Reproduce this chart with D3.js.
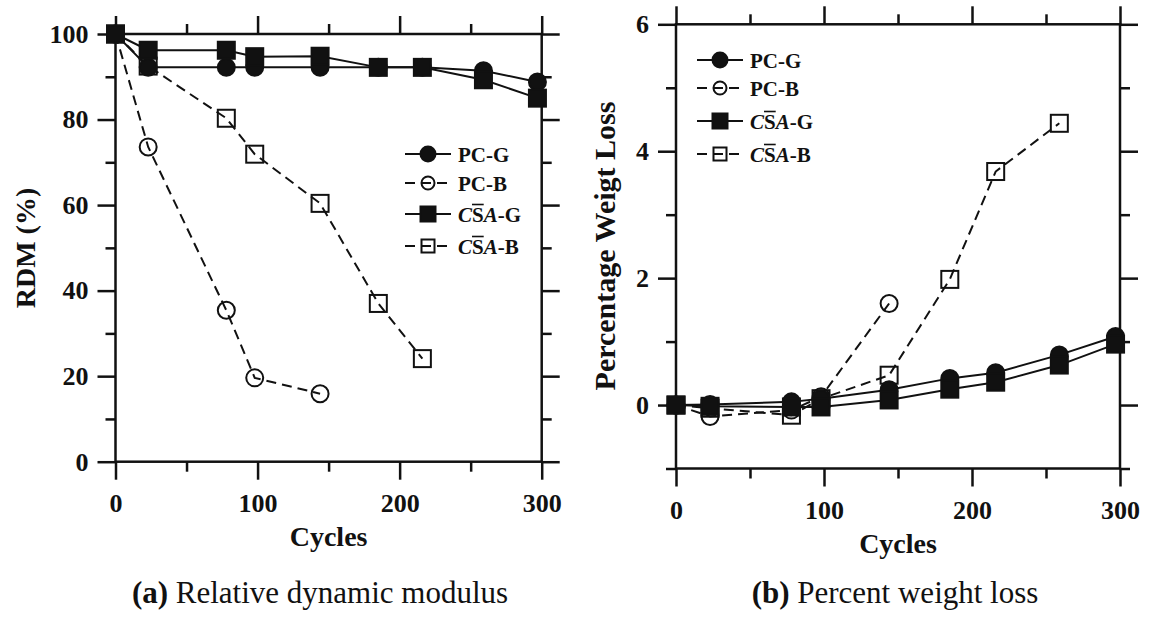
<!DOCTYPE html>
<html>
<head>
<meta charset="utf-8">
<script src="https://cdn.jsdelivr.net/npm/d3@7"></script>
<style>
  body { margin: 0; background: #fff; }
  svg { display: block; font-family: "Liberation Serif", "Times New Roman", Times, serif; }
  .axis text { font-size: 26px; font-weight: bold; fill: #111; font-family: "Liberation Serif", "Times New Roman", Times, serif; }
  .axis line { stroke: #111; stroke-width: 2.5; }
</style>
</head>
<body>
<svg id="chart" width="1150" height="618"></svg>
<script>
// cycles at which the specimens were measured
const cycles = [0, 23, 78, 98, 144, 185, 216, 259, 297];
const seriesNames = ["PC-G", "PC-B", "CSA-G", "CSA-B"];

// (a) relative dynamic modulus, %
const rdmPCG = [100, 92.2, 92.2, 92.2, 92.2, 92.2, 92.2, 91.4, 88.8];
const rdmPCB = [100, 73.6, 35.4, 19.6, 15.9];
const rdmCSAG = [100, 96.2, 96.2, 94.7, 94.8, 92.2, 92.2, 89.3, 85.0];
const rdmCSAB = [100, 92.5, 80.3, 71.9, 60.4, 37.0, 24.1];

// (b) percentage weight loss
const wlPCG = [0, 0.01, 0.05, 0.1, 0.24, 0.42, 0.51, 0.79, 1.08];
const wlPCB = [0, -0.18, -0.08, 0.13, 1.6];
const wlCSAG = [0, -0.02, -0.03, -0.03, 0.08, 0.25, 0.36, 0.63, 0.96];
const wlCSAB = [0, -0.05, -0.16, 0.1, 0.47, 1.98, 3.68, 4.44];

const xMajor = [0, 100, 200, 300];
const xMinor = [50, 150, 250];
const rdmMajor = [0, 20, 40, 60, 80, 100];
const rdmMinor = [10, 30, 50, 70, 90];
const wlMajor = [0, 2, 4, 6];
const wlMinor = [-1, 1, 3, 5];

const ink = "#111";
const serif = "Liberation Serif";

// drawing style per series (order = draw order)
const styles = {
  "PC-B": { shape: "circle", filled: false, dashed: true },
  "CSA-B": { shape: "square", filled: false, dashed: true },
  "PC-G": { shape: "circle", filled: true, dashed: false },
  "CSA-G": { shape: "square", filled: true, dashed: false },
};

let svg = d3.select("#chart");

function marker(g, shape, filled, cx, cy, size) {
  if (shape === "circle") {
    g.append("circle")
      .attr("cx", cx).attr("cy", cy).attr("r", size / 2)
      .attr("fill", filled ? ink : "none")
      .attr("stroke", ink).attr("stroke-width", 2);
  } else {
    g.append("rect")
      .attr("x", cx - size / 2).attr("y", cy - size / 2)
      .attr("width", size).attr("height", size)
      .attr("fill", filled ? ink : "none")
      .attr("stroke", ink).attr("stroke-width", 2);
  }
}

function legendLabel(g, name, x, y) {
  let t = g.append("text")
    .attr("x", x).attr("y", y)
    .style("font-family", serif)
    .attr("font-weight", "bold")
    .attr("font-size", 21)
    .attr("fill", ink);
  if (name.startsWith("CSA")) {
    t.append("tspan").attr("font-style", "italic").text("C");
    t.append("tspan").text("S");
    t.append("tspan").attr("font-style", "italic").text("A");
    t.append("tspan").text(name.slice(3));
    // overline on the S
    let node = t.node();
    let s0 = node.getStartPositionOfChar(1).x;
    let s1 = node.getEndPositionOfChar(1).x;
    g.append("line")
      .attr("x1", s0).attr("x2", s1)
      .attr("y1", y - 17).attr("y2", y - 17)
      .attr("stroke", ink).attr("stroke-width", 1.6);
  } else {
    t.text(name);
  }
}

function drawPanel(opts) {
  const { left, top, w, h, yDomain, series, yMajor, yMinor, legendX, legendY, legendRows } = opts;
  let g = svg.append("g").attr("transform", "translate(" + left + "," + top + ")");

  let x = d3.scaleLinear().domain([0, 300]).range([0, w]);
  let y = d3.scaleLinear().domain(yDomain).range([h, 0]);

  // ticks on all four sides, pointing outwards
  g.append("g").attr("class", "axis").attr("transform", "translate(0," + h + ")")
    .call(d3.axisBottom(x).tickValues(xMajor).tickSize(18).tickPadding(14).tickFormat(d3.format("d")));
  g.append("g").attr("class", "axis").attr("transform", "translate(0," + h + ")")
    .call(d3.axisBottom(x).tickValues(xMinor).tickSize(10).tickFormat(""));
  g.append("g").attr("class", "axis")
    .call(d3.axisTop(x).tickValues(xMajor).tickSize(18).tickFormat(""));
  g.append("g").attr("class", "axis")
    .call(d3.axisTop(x).tickValues(xMinor).tickSize(10).tickFormat(""));
  g.append("g").attr("class", "axis")
    .call(d3.axisLeft(y).tickValues(yMajor).tickSize(18).tickPadding(9).tickFormat(d3.format("d")));
  g.append("g").attr("class", "axis")
    .call(d3.axisLeft(y).tickValues(yMinor).tickSize(10).tickFormat(""));
  g.append("g").attr("class", "axis").attr("transform", "translate(" + w + ",0)")
    .call(d3.axisRight(y).tickValues(yMajor).tickSize(18).tickFormat(""));
  g.append("g").attr("class", "axis").attr("transform", "translate(" + w + ",0)")
    .call(d3.axisRight(y).tickValues(yMinor).tickSize(10).tickFormat(""));
  g.selectAll(".axis .domain").remove();
  // d3 axes set font-family="sans-serif" on the group; override it
  g.selectAll(".axis").attr("font-family", null).attr("font-size", null);

  g.append("rect")
    .attr("x", 0).attr("y", 0).attr("width", w).attr("height", h)
    .attr("fill", "none").attr("stroke", ink).attr("stroke-width", 2.5);

  let line = d3.line()
    .x(function (d, i) { return x(cycles[i]); })
    .y(function (d) { return y(d); });

  Object.keys(styles).forEach(function (name) {
    let st = styles[name];
    let vals = series[name];
    g.append("path")
      .datum(vals)
      .attr("d", line)
      .attr("fill", "none")
      .attr("stroke", ink)
      .attr("stroke-width", 2)
      .attr("stroke-dasharray", st.dashed ? "10,6" : null);
    let mg = g.append("g");
    vals.forEach(function (v, i) {
      marker(mg, st.shape, st.filled, x(cycles[i]), y(v), 17);
    });
  });

  // legend
  let lg = svg.append("g");
  seriesNames.forEach(function (name, i) {
    let st = styles[name];
    let ly = legendY + legendRows[i];
    lg.append("line").attr("x1", legendX).attr("x2", legendX + 46).attr("y1", ly).attr("y2", ly)
      .attr("stroke", ink).attr("stroke-width", 2)
      .attr("stroke-dasharray", st.dashed ? "10,6" : null);
    marker(lg, st.shape, st.filled, legendX + 23, ly, st.filled ? 15 : 13);
    legendLabel(lg, name, legendX + 53, ly + 7.5);
  });

  return { x: x, y: y };
}

drawPanel({
  left: 115.5, top: 34, w: 426.2, h: 427.7,
  yDomain: [0, 100],
  yMajor: rdmMajor, yMinor: rdmMinor,
  series: { "PC-G": rdmPCG, "PC-B": rdmPCB, "CSA-G": rdmCSAG, "CSA-B": rdmCSAB },
  legendX: 405, legendY: 154, legendRows: [0, 29, 60, 92],
});

drawPanel({
  left: 676, top: 24.3, w: 444, h: 444.2,
  yDomain: [-1, 6],
  yMajor: wlMajor, yMinor: wlMinor,
  series: { "PC-G": wlPCG, "PC-B": wlPCB, "CSA-G": wlCSAG, "CSA-B": wlCSAB },
  legendX: 697, legendY: 60, legendRows: [0, 28, 61, 94],
});

// axis titles
function title(x, y, txt, rotate, size) {
  svg.append("text")
    .attr("transform", "translate(" + x + "," + y + ")" + (rotate ? " rotate(-90)" : ""))
    .attr("text-anchor", "middle")
    .style("font-family", serif)
    .attr("font-weight", "bold")
    .attr("font-size", size)
    .attr("fill", ink)
    .text(txt);
}
title(328.6, 546, "Cycles", false, 28);
title(898, 553, "Cycles", false, 28);
title(35, 248, "RDM (%)", true, 28);
title(615, 246, "Percentage Weigt Loss", true, 30);

// captions
function caption(cx, y, tag, rest) {
  let t = svg.append("text")
    .attr("x", cx).attr("y", y)
    .attr("text-anchor", "middle")
    .style("font-family", serif)
    .attr("font-size", 31)
    .attr("fill", ink);
  t.append("tspan").attr("font-weight", "bold").text(tag);
  t.append("tspan").text(" " + rest);
}
caption(320, 603, "(a)", "Relative dynamic modulus");
caption(895, 603, "(b)", "Percent weight loss");
</script>
</body>
</html>
